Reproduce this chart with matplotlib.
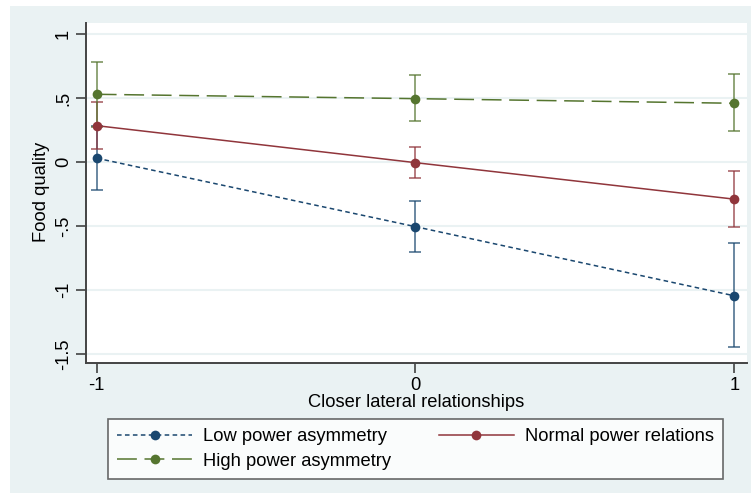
import matplotlib
matplotlib.use("Agg")
import matplotlib.pyplot as plt
from matplotlib.patches import Rectangle

plt.rcParams['font.family'] = ['Liberation Sans', 'DejaVu Sans']

x_vals = [-1, 0, 1]
series_names = ["Low power asymmetry", "Normal power relations", "High power asymmetry"]
low_mean = [0.03, -0.505, -1.045]
low_lo = [-0.22, -0.70, -1.445]
low_hi = [0.28, -0.305, -0.633]
normal_mean = [0.284, -0.005, -0.29]
normal_lo = [0.104, -0.125, -0.51]
normal_hi = [0.466, 0.117, -0.073]
high_mean = [0.529, 0.495, 0.459]
high_lo = [0.274, 0.318, 0.24]
high_hi = [0.784, 0.677, 0.685]
y_ticks = [-1.5, -1, -0.5, 0, 0.5, 1]
y_ticklabels = ["-1.5", "-1", "-.5", "0", ".5", "1"]
x_ticks = [-1, 0, 1]
x_ticklabels = ["-1", "0", "1"]

W, H = 753, 494
FS = 13.2
fig = plt.figure(figsize=(W / 100, H / 100), dpi=100, facecolor='white')
bg = '#EAF2F3'
fig.patches.append(Rectangle((10 / W, 1 - 493 / H), 741 / W, 487 / H,
                             transform=fig.transFigure, facecolor=bg,
                             edgecolor='none', zorder=-10))

ax = fig.add_axes([86 / W, 1 - 363 / H, (747 - 86) / W, (363 - 23) / H])
ax.set_zorder(2)
ax.set_facecolor('white')
ax.set_xlim(-1.0336, 1.040)
ax.set_ylim(-1.570, 1.086)

navy = '#1A476F'
maroon = '#90353B'
green = '#55752F'

specs = [
    (low_mean, low_lo, low_hi, navy, (0, (3, 2.2))),
    (normal_mean, normal_lo, normal_hi, maroon, '-'),
    (high_mean, high_lo, high_hi, green, (0, (13, 5))),
]
handles = []
for (m, lo, hi, c, ls), name in zip(specs, series_names):
    yerr = [[mi - l for mi, l in zip(m, lo)], [h - mi for mi, h in zip(m, hi)]]
    ax.errorbar(x_vals, m, yerr=yerr, fmt='none', ecolor=c, alpha=0.65,
                elinewidth=1.4, capsize=4.5, capthick=1.4, zorder=3)
    ln, = ax.plot(x_vals, m, color=c, linestyle=ls, linewidth=1.1,
                  marker='o', markersize=7, markeredgewidth=0, zorder=4, label=name)
    handles.append(ln)

ax.set_yticks(y_ticks)
ax.set_yticklabels(y_ticklabels, rotation=90, va='center')
ax.set_xticks(x_ticks)
ax.set_xticklabels(x_ticklabels)
ax.tick_params(axis='both', labelsize=FS, length=7, width=1.1, color='#333333', pad=3)
ax.grid(axis='y', color=bg, linewidth=1.5)
ax.set_axisbelow(True)
for s in ['top', 'right']:
    ax.spines[s].set_visible(False)
for s in ['left', 'bottom']:
    ax.spines[s].set_color('#444444')
    ax.spines[s].set_linewidth(1.4)

ax.set_xlabel("Closer lateral relationships", fontsize=FS, labelpad=0)
fig.text(41 / W, 1 - 192 / H, "Food quality", rotation=90, fontsize=FS,
         ha='center', va='center')

leg = fig.legend([handles[0], handles[2], handles[1]],
                 [series_names[0], series_names[2], series_names[1]],
                 ncol=2, loc='center', bbox_to_anchor=((108 + 723) / 2 / W, 1 - 449 / H),
                 fontsize=FS, frameon=True, fancybox=False, edgecolor='#444444',
                 handlelength=4.1, handletextpad=0.6, columnspacing=2.6,
                 labelspacing=0.4, borderpad=0.5)
leg.get_frame().set_linewidth(1.2)
leg.get_frame().set_facecolor('white')

fig.savefig("out.png", dpi=100, facecolor='white')
